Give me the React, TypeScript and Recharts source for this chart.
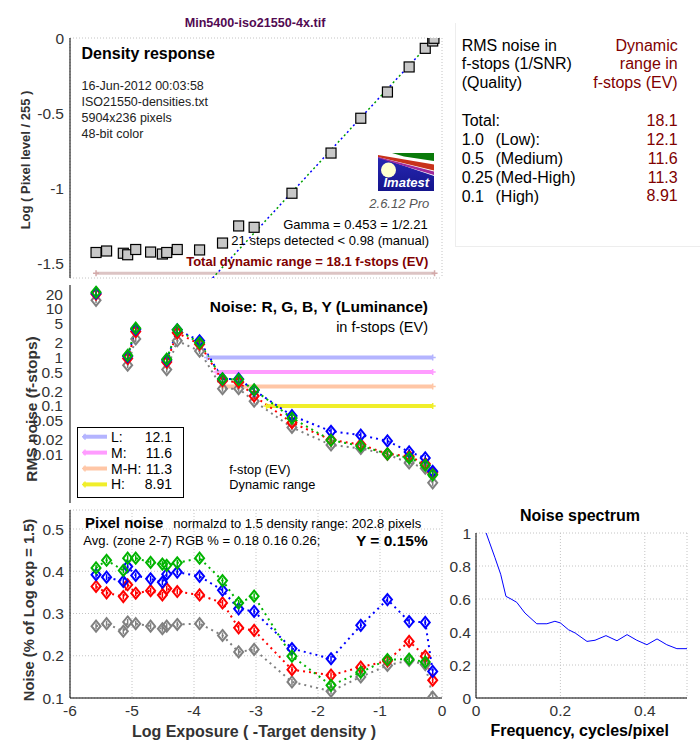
import React from 'react';
import {
  ComposedChart,
  LineChart,
  Line,
  Scatter,
  XAxis,
  YAxis,
  CartesianGrid,
  Legend,
} from 'recharts';

const FONT = '"Liberation Sans", Arial, Helvetica, sans-serif';

// 21 grey-scale steps: log exposure (-target density)
const logExposure = [-5.58, -5.41, -5.14, -5.07, -4.94, -4.7, -4.51, -4.44, -4.27, -3.91, -3.54, -3.28, -3.03, -2.42, -1.79, -1.31, -0.88, -0.53, -0.27, -0.15, -0.13];
const logPixelLevel = [-1.43, -1.42, -1.435, -1.445, -1.41, -1.427, -1.44, -1.43, -1.41, -1.413, -1.367, -1.253, -1.262, -1.035, -0.767, -0.535, -0.36, -0.193, -0.069, -0.02, -0.002];

// gamma fit + total dynamic range bar
const fitExposure = [-3.7, -0.12];
const fitLevel = [-1.6, 0];
const totalRangeExposure = [-5.58, -0.12];
const totalRangeLevel = -1.568;

// RMS noise in f-stops (null = not plotted)
const rmsR = [20, null, null, 0.95, 3.4, null, null, 0.8, 3.2, 1.87, 0.33, 0.31, 0.16, 0.045, 0.02, 0.016, 0.0103, 0.0092, 0.0064, 0.0042, null];
const rmsG = [22, null, null, 1.1, 4.0, null, null, 0.92, 3.7, 2.0, 0.36, 0.35, 0.215, 0.056, 0.0196, 0.015, 0.0103, 0.0085, 0.006, 0.0038, null];
const rmsB = [21, null, null, 1.05, 3.8, null, null, 0.88, 3.7, 2.2, 0.36, 0.36, 0.21, 0.063, 0.03, 0.025, 0.019, 0.0113, 0.0085, 0.0045, null];
const rmsY = [15, null, null, 0.69, 2.4, null, null, 0.56, 2.2, 1.35, 0.226, 0.226, 0.125, 0.036, 0.0157, 0.0133, 0.01, 0.0067, 0.0052, 0.0026, null];

// dynamic range per quality level
const drLabels = ['L:', 'M:', 'M-H:', 'H:'];
const drValues = ['12.1', '11.6', '11.3', '8.91'];
const drNoise = [1, 0.5, 0.25, 0.1];
const drStart = [-3.79, -3.64, -3.55, -2.83];
const drEnd = -0.15;
const drColors = ['#b4b4ff', '#ff9cff', '#ffc6a6', '#f0ee2a'];

// pixel noise (% of log exposure range 1.5)
const pixR = [0.364, 0.349, 0.34, 0.368, 0.348, 0.354, 0.344, 0.359, 0.352, 0.344, 0.325, 0.266, 0.26, 0.167, 0.154, 0.173, 0.188, 0.234, 0.199, 0.142, null];
const pixG = [0.408, 0.426, 0.402, 0.431, 0.431, 0.421, 0.417, 0.414, 0.42, 0.431, 0.378, 0.325, 0.341, 0.199, 0.13, 0.161, 0.191, 0.192, 0.185, null, null];
const pixB = [0.392, 0.386, 0.376, 0.411, 0.39, 0.382, 0.374, 0.393, 0.398, 0.388, 0.355, 0.311, 0.305, 0.217, 0.193, 0.272, 0.333, 0.281, 0.279, 0.163, null];
const pixY = [0.27, 0.276, 0.258, 0.28, 0.276, 0.27, 0.264, 0.27, 0.274, 0.276, 0.248, 0.209, 0.215, 0.138, 0.116, 0.15, 0.177, 0.189, 0.179, 0.102, null];

// noise spectrum
const specFreq = [0.024, 0.045, 0.0585, 0.071, 0.083, 0.0965, 0.116, 0.144, 0.168, 0.187, 0.2, 0.219, 0.235, 0.263, 0.282, 0.308, 0.334, 0.358, 0.381, 0.405, 0.429, 0.452, 0.476, 0.5];
const specPower = [1.0, 0.85, 0.75, 0.616, 0.6, 0.58, 0.515, 0.45, 0.45, 0.465, 0.455, 0.414, 0.394, 0.343, 0.35, 0.378, 0.347, 0.384, 0.35, 0.323, 0.358, 0.323, 0.299, 0.299];

// summary table
const qualityLevels = ['1.0', '0.5', '0.25', '0.1'];
const qualityNames = ['(Low):', '(Medium)', '(Med-High)', '(High)'];
const qualityRanges = ['18.1', '12.1', '11.6', '11.3', '8.91'];

// ticks
const exposureTicks = [-6, -5, -4, -3, -2, -1, 0];
const innerExposureTicks = [-5, -4, -3, -2, -1];
const densityTicks = [0, -0.5, -1, -1.5];
const densityMinorTicks = [-0.2, -0.4, -0.6, -0.8, -1, -1.2, -1.4];
const rmsTicks = [0.01, 0.02, 0.05, 0.1, 0.2, 0.5, 1, 2, 5, 10, 20];
const rmsDecadeTicks = [0.01, 0.1, 1, 10];
const pixTicks = [0.1, 0.2, 0.3, 0.4, 0.5];
const specXTicks = [0, 0.2, 0.4];
const specYTicks = [0, 0.2, 0.4, 0.6, 0.8, 1];

const densityRows = logExposure.map((x, i) => ({ x, y: logPixelLevel[i] }));
const fitRows = fitExposure.map((x, i) => ({ x, y: fitLevel[i] }));
const totalRangeRows = totalRangeExposure.map((x) => ({ x, y: totalRangeLevel }));
const noiseRows = logExposure.map((x, i) => ({ x, r: rmsR[i], g: rmsG[i], b: rmsB[i], l: rmsY[i] }));
const drRows = drStart.map((s, i) => [{ x: s, y: drNoise[i] }, { x: drEnd, y: drNoise[i] }]);
const pixelRows = logExposure.map((x, i) => ({ x, r: pixR[i], g: pixG[i], b: pixB[i], l: pixY[i] }));
const spectrumRows = specFreq.map((f, i) => ({ f, v: specPower[i] }));

const channelStyles = [
  { key: 'l', color: '#808080' },
  { key: 'r', color: '#ff0000' },
  { key: 'b', color: '#0000ff' },
  { key: 'g', color: '#00b400' },
];

const tickStyle = { fill: '#333', fontSize: 15.5 };
const gridStyle = { stroke: '#c4c4c4', strokeDasharray: '1 2' };

const diamondDot = (color: string) => (p: any) => {
  const { cx, cy, value, index } = p;
  if (value == null || cx == null || cy == null || isNaN(cy)) return <g key={`d${index}`} />;
  return (
    <g key={`d${index}`}>
      <path d={`M${cx},${cy - 5.5}L${cx + 4.5},${cy}L${cx},${cy + 5.5}L${cx - 4.5},${cy}Z`} fill="none" stroke={color} strokeWidth={2} />
      <path d={`M${cx},${cy - 3}V${cy + 3}`} stroke={color} strokeWidth={1.5} />
    </g>
  );
};

const plusDot = (color: string) => (p: any) => {
  const { cx, cy, index } = p;
  if (cx == null || cy == null) return <g key={`p${index}`} />;
  return <path key={`p${index}`} d={`M${cx - 3},${cy}H${cx + 3}M${cx},${cy - 3}V${cy + 3}`} stroke={color} strokeWidth={1.5} />;
};

const squareShape = (p: any) => (
  <rect x={p.cx - 5} y={p.cy - 5} width={10} height={10} fill="#c8c8c8" stroke="#000" strokeWidth={1.2} />
);

function DensityPanel() {
  return (
    <ComposedChart width={450} height={290} data={densityRows} margin={{ top: 38, right: 8, bottom: 12, left: 0 }}>
      <XAxis xAxisId="b" dataKey="x" type="number" domain={[-6, 0]} allowDataOverflow ticks={innerExposureTicks} interval={0} orientation="bottom" mirror height={0} tick={false} tickSize={6} stroke="#000" />
      <XAxis xAxisId="t" dataKey="x" type="number" domain={[-6, 0]} allowDataOverflow ticks={innerExposureTicks} interval={0} orientation="top" mirror height={0} tick={false} tickSize={6} stroke="#000" />
      <YAxis yAxisId="g" type="number" domain={[-1.6, 0]} allowDataOverflow ticks={densityMinorTicks} interval={0} mirror width={0} tick={false} tickSize={6} axisLine={false} stroke="#000" />
      <YAxis yAxisId="l" dataKey="y" type="number" domain={[-1.6, 0]} allowDataOverflow ticks={densityTicks} interval={0} width={70} tickLine={false} tickSize={0} tickMargin={6} tick={tickStyle} stroke="#000" />
      <YAxis yAxisId="r" type="number" orientation="right" domain={[-1.6, 0]} allowDataOverflow ticks={densityMinorTicks} interval={0} mirror width={0} tick={false} tickSize={6} stroke="#000" />
      <CartesianGrid xAxisId="b" yAxisId="g" {...gridStyle} />
      <Line xAxisId="b" yAxisId="l" data={totalRangeRows} dataKey="y" stroke="#dcc4c4" strokeWidth={3} dot={plusDot('#d4aaaa')} isAnimationActive={false} />
      <Line xAxisId="b" yAxisId="l" data={fitRows} dataKey="y" stroke="#0000ff" strokeWidth={1.5} strokeDasharray="2 7" dot={false} isAnimationActive={false} />
      <Line xAxisId="b" yAxisId="l" data={fitRows} dataKey="y" stroke="#00a000" strokeWidth={1.5} strokeDasharray="2 7" strokeDashoffset={4.5} dot={false} isAnimationActive={false} />
      <Scatter xAxisId="b" yAxisId="l" shape={squareShape} isAnimationActive={false} />
    </ComposedChart>
  );
}

function DrLegend() {
  return (
    <svg width={107} height={71} style={{ display: 'block', fontFamily: FONT }}>
      <rect x={0.5} y={0.5} width={106} height={70} fill="#fff" stroke="#000" />
      {drLabels.map((lab, i) => {
        const cy = 9.7 + i * 15.9;
        return (
          <g key={lab}>
            <line x1={6} y1={cy} x2={30} y2={cy} stroke={drColors[i]} strokeWidth={4} />
            <path d={`M8,${cy - 3}V${cy + 3}M5,${cy}H11`} stroke={drColors[i]} strokeWidth={1.5} />
            <text x={34} y={cy + 5} fontSize={14} fill="#000">{lab}</text>
            <text x={95} y={cy + 5} fontSize={14} fill="#000" textAnchor="end">{drValues[i]}</text>
          </g>
        );
      })}
    </svg>
  );
}

function NoisePanel() {
  return (
    <ComposedChart width={450} height={230} data={noiseRows} margin={{ top: 5, right: 8, bottom: 7, left: 0 }}>
      <XAxis xAxisId="b" dataKey="x" type="number" domain={[-6, 0]} allowDataOverflow ticks={innerExposureTicks} interval={0} orientation="bottom" mirror height={0} tick={false} tickSize={6} stroke="#000" />
      <XAxis xAxisId="t" dataKey="x" type="number" domain={[-6, 0]} allowDataOverflow ticks={innerExposureTicks} interval={0} orientation="top" mirror height={0} tick={false} tickSize={6} axisLine={false} stroke="#000" />
      <YAxis yAxisId="l" type="number" scale="log" domain={[0.001, 31]} allowDataOverflow ticks={rmsTicks} interval={0} width={70} tickLine={false} tickSize={0} tickMargin={7} tick={tickStyle} stroke="#000" />
      <YAxis yAxisId="r" type="number" scale="log" orientation="right" domain={[0.001, 31]} allowDataOverflow ticks={rmsDecadeTicks} interval={0} mirror width={0} tick={false} tickSize={6} stroke="#000" />
      {drRows.map((rows, i) => (
        <Line key={drLabels[i]} xAxisId="b" yAxisId="l" data={rows} dataKey="y" stroke={drColors[i]} strokeWidth={4} dot={plusDot(drColors[i])} isAnimationActive={false} />
      ))}
      {channelStyles.map((c) => (
        <Line key={c.key} xAxisId="b" yAxisId="l" dataKey={c.key} stroke={c.color} strokeWidth={2} strokeDasharray="2 4" dot={diamondDot(c.color)} isAnimationActive={false} />
      ))}
      <Legend layout="vertical" align="center" verticalAlign="middle" wrapperStyle={{ left: 77, top: 147, width: 107, height: 71 }} content={() => <DrLegend />} />
    </ComposedChart>
  );
}

function PixelNoisePanel() {
  return (
    <ComposedChart width={450} height={245} data={pixelRows} margin={{ top: 5, right: 8, bottom: 12, left: 0 }}>
      <XAxis xAxisId="b" dataKey="x" type="number" domain={[-6, 0]} allowDataOverflow ticks={exposureTicks} interval={0} height={40} tickLine={false} tickSize={0} tickMargin={7} tick={tickStyle} stroke="#000" />
      <XAxis xAxisId="bi" dataKey="x" type="number" domain={[-6, 0]} allowDataOverflow ticks={innerExposureTicks} interval={0} orientation="bottom" mirror height={0} tick={false} tickSize={6} axisLine={false} stroke="#000" />
      <XAxis xAxisId="t" dataKey="x" type="number" domain={[-6, 0]} allowDataOverflow ticks={innerExposureTicks} interval={0} orientation="top" mirror height={0} tick={false} tickSize={6} axisLine={false} stroke="#000" />
      <YAxis yAxisId="l" type="number" domain={[0.1, 0.545]} allowDataOverflow ticks={pixTicks} interval={0} width={70} tickLine={false} tickSize={0} tickMargin={6} tick={tickStyle} stroke="#000" />
      <YAxis yAxisId="r" type="number" orientation="right" domain={[0.1, 0.545]} allowDataOverflow ticks={pixTicks} interval={0} mirror width={0} tick={false} tickSize={6} stroke="#000" />
      <CartesianGrid xAxisId="b" yAxisId="l" {...gridStyle} />
      {channelStyles.map((c) => (
        <Line key={c.key} xAxisId="b" yAxisId="l" dataKey={c.key} stroke={c.color} strokeWidth={2} strokeDasharray="2 4" dot={diamondDot(c.color)} isAnimationActive={false} />
      ))}
    </ComposedChart>
  );
}

function SpectrumPanel() {
  return (
    <LineChart width={260} height={250} data={spectrumRows} margin={{ top: 33, right: 13, bottom: 12, left: 0 }}>
      <XAxis dataKey="f" type="number" domain={[0, 0.5]} allowDataOverflow ticks={specXTicks} interval={0} height={40} tickLine={false} tickSize={0} tickMargin={7} tick={tickStyle} stroke="#000" />
      <XAxis xAxisId="t" dataKey="f" type="number" domain={[0, 0.5]} orientation="top" mirror height={0} tick={false} tickLine={false} stroke="#000" />
      <YAxis type="number" domain={[0, 1]} allowDataOverflow ticks={specYTicks} interval={0} width={36} tickLine={false} tickSize={0} tickMargin={5} tick={tickStyle} stroke="#000" />
      <YAxis yAxisId="r" type="number" orientation="right" domain={[0, 1]} mirror width={0} tick={false} tickLine={false} stroke="#000" />
      <CartesianGrid {...gridStyle} />
      <Line dataKey="v" stroke="#0000ff" strokeWidth={1} dot={false} isAnimationActive={false} />
    </LineChart>
  );
}

const RotLabel = ({ x, y, size, children }: any) => (
  <text x={x} y={y} dy="0.36em" transform={`rotate(-90 ${x} ${y})`} textAnchor="middle" fontSize={size} fontWeight="bold" fill="#333">
    {children}
  </text>
);

function Overlay() {
  const red = '#800000';
  return (
    <svg width={700} height={750} style={{ position: 'absolute', left: 0, top: 0, pointerEvents: 'none', fontFamily: FONT, whiteSpace: 'pre' }}>
      <defs>
        <linearGradient id="logoBlue" x1="0" y1="0" x2="0" y2="1">
          <stop offset="0" stopColor="#2a2ab8" />
          <stop offset="1" stopColor="#14148c" />
        </linearGradient>
      </defs>
      <text x={255} y={27.2} textAnchor="middle" fontSize={12.6} fontWeight="bold" fill="#520a52">Min5400-iso21550-4x.tif</text>

      {/* density panel notes */}
      <text x={81.5} y={59} fontSize={16} fontWeight="bold" fill="#000">Density response</text>
      <text x={81.5} y={89.5} fontSize={12.5} fill="#222">16-Jun-2012 00:03:58</text>
      <text x={81.5} y={105.5} fontSize={12.5} fill="#222">ISO21550-densities.txt</text>
      <text x={81.5} y={121.8} fontSize={12.5} fill="#222">5904x236 pixels</text>
      <text x={81.5} y={137.8} fontSize={12.5} fill="#222">48-bit color</text>
      <g>
        <rect x={378} y={153} width={56} height={38} fill="url(#logoBlue)" />
        <polygon points="378,153 434,153 434,176 378,157" fill="#fff" />
        <polygon points="392,153 434,153 434,161 404,156.5" fill="#0a7a0a" />
        <polygon points="378,155 434,164.5 434,170.5 378,157" fill="#c8321a" />
        <polygon points="378,157 434,171.5 434,175 378,158" fill="#a02a9a" />
        <circle cx={388.5} cy={170} r={7.5} fill="#ffffd0" />
        <text x={383.5} y={187} fontSize={13} fontWeight="bold" fontStyle="italic" fill="#fff">Imatest</text>
      </g>
      <text x={429.3} y={208} textAnchor="end" fontSize={13} fontStyle="italic" fill="#555">2.6.12  Pro</text>
      <text x={427.7} y={228.7} textAnchor="end" fontSize={13} fill="#000">Gamma = 0.453 = 1/2.21</text>
      <text x={429} y={244.7} textAnchor="end" fontSize={13} fill="#000">21 steps detected &lt; 0.98 (manual)</text>
      <text x={428.3} y={265.7} textAnchor="end" fontSize={13} fontWeight="bold" fill={red}>Total dynamic range = 18.1 f-stops (EV)</text>

      {/* noise panel notes */}
      <text x={428} y={312.3} textAnchor="end" fontSize={15.5} fontWeight="bold" fill="#000">Noise: R, G, B, Y (Luminance)</text>
      <text x={428} y={331.9} textAnchor="end" fontSize={14.5} fill="#000">in f-stops (EV)</text>
      <text x={229.3} y={473.9} fontSize={12.8} fill="#000">f-stop (EV)</text>
      <text x={229.3} y={488.6} fontSize={12.8} fill="#000">Dynamic range</text>

      {/* pixel noise notes */}
      <text x={85} y={527.7} fontSize={15} fontWeight="bold" fill="#000">Pixel noise</text>
      <text x={173.3} y={528} fontSize={13} fill="#000">normalzd to 1.5 density range: 202.8 pixels</text>
      <text x={83.3} y={544.7} fontSize={13} fill="#000">Avg. (zone 2-7) RGB % = 0.18  0.16  0.26;</text>
      <text x={427.7} y={546.3} textAnchor="end" fontSize={15.5} fontWeight="bold" fill="#000">Y = 0.15%</text>

      {/* axis titles */}
      <RotLabel x={25} y={160} size={13}>Log ( Pixel level / 255 )</RotLabel>
      <RotLabel x={31} y={409} size={15.5}>RMS noise (f-stops)</RotLabel>
      <RotLabel x={29} y={610} size={14.7}>Noise (% of Log exp = 1.5)</RotLabel>
      <text x={254} y={736.8} textAnchor="middle" fontSize={16} fontWeight="bold" fill="#333">Log Exposure ( -Target density )</text>
      <text x={580} y={520.8} textAnchor="middle" fontSize={16} fontWeight="bold" fill="#000">Noise spectrum</text>
      <text x={579.7} y={735.8} textAnchor="middle" fontSize={16} fontWeight="bold" fill="#000">Frequency, cycles/pixel</text>

      {/* summary table */}
      <line x1={455.5} y1={23} x2={455.5} y2={247} stroke="#ededed" />
      <line x1={455.5} y1={246.5} x2={700} y2={246.5} stroke="#ededed" />
      <text x={461.7} y={50.8} fontSize={16} fill="#000">RMS noise in</text>
      <text x={461.7} y={69.1} fontSize={16} fill="#000">f-stops (1/SNR)</text>
      <text x={461.7} y={88.1} fontSize={16} fill="#000">(Quality)</text>
      <text x={677.7} y={50.8} textAnchor="end" fontSize={16} fill={red}>Dynamic</text>
      <text x={677.7} y={69.1} textAnchor="end" fontSize={16} fill={red}>range in</text>
      <text x={677.7} y={88.1} textAnchor="end" fontSize={16} fill={red}>f-stops (EV)</text>
      <text x={461.7} y={125.8} fontSize={16} fill="#000">Total:</text>
      {qualityLevels.map((q, i) => (
        <g key={q}>
          <text x={461.7} y={144.8 + i * 18.9} fontSize={16} fill="#000">{q}</text>
          <text x={495.5} y={144.8 + i * 18.9} fontSize={16} fill="#000">{qualityNames[i]}</text>
        </g>
      ))}
      {qualityRanges.map((v, i) => (
        <text key={i} x={677.7} y={125.8 + i * 18.9} textAnchor="end" fontSize={16} fill={red}>{v}</text>
      ))}
    </svg>
  );
}

export default function App() {
  return (
    <div style={{ position: 'absolute', left: 0, top: 0, width: 700, height: 750, background: '#fff', fontFamily: FONT, overflow: 'hidden' }}>
      <div style={{ position: 'absolute', left: 0, top: 0 }}>
        <DensityPanel />
      </div>
      <div style={{ position: 'absolute', left: 0, top: 280 }}>
        <NoisePanel />
      </div>
      <div style={{ position: 'absolute', left: 0, top: 505 }}>
        <PixelNoisePanel />
      </div>
      <div style={{ position: 'absolute', left: 440, top: 500 }}>
        <SpectrumPanel />
      </div>
      <Overlay />
    </div>
  );
}
